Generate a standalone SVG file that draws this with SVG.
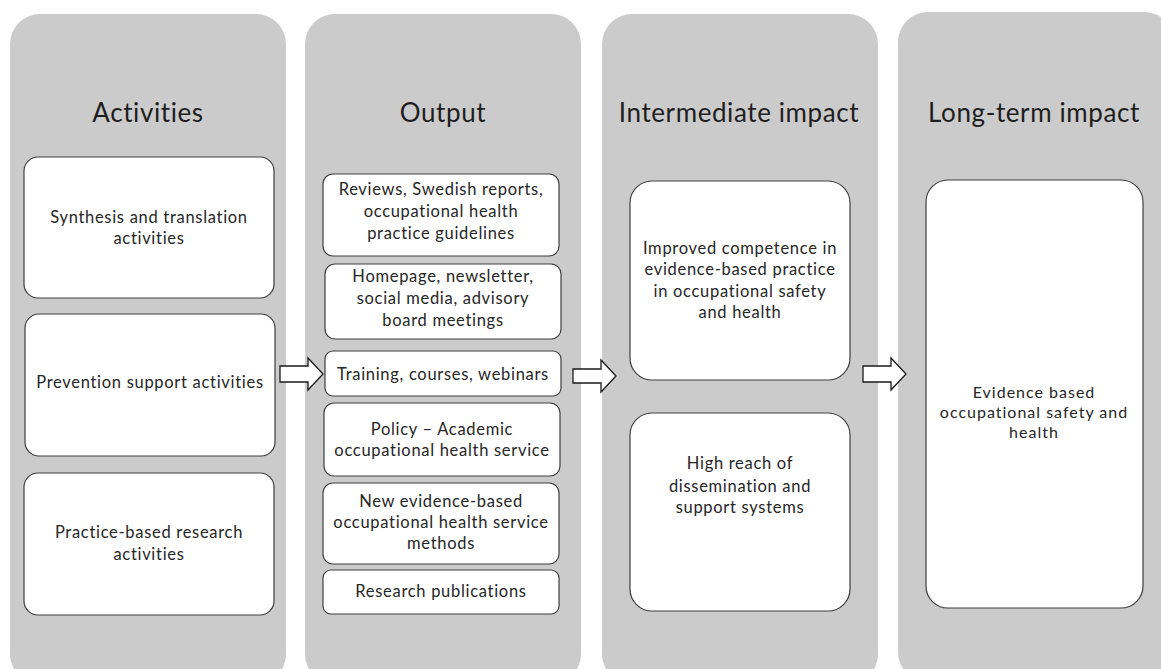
<svg xmlns="http://www.w3.org/2000/svg" width="1161" height="669" viewBox="0 0 1161 669">
<style>
.col{fill:#cbcbcb;}
.box{fill:#ffffff;stroke:#3f3f3f;stroke-width:1.2;}
.h{font-family:Lato,"Open Sans",sans-serif;font-size:26px;letter-spacing:0.6px;fill:#1e1e1e;text-anchor:middle;}
.t{font-family:Lato,"Open Sans",sans-serif;font-size:16.5px;letter-spacing:0.7px;fill:#262626;text-anchor:middle;}
.s{font-family:Lato,"Open Sans",sans-serif;font-size:16px;letter-spacing:1px;fill:#262626;text-anchor:middle;}
.arr{fill:#ffffff;stroke:#1a1a1a;stroke-width:1.3;stroke-linejoin:miter;}
</style>
<rect width="1161" height="669" fill="#ffffff"/>
<g id="col-activities">
<rect class="col" x="10" y="14" width="276" height="670" rx="30"/>
<text class="h" x="148" y="122">Activities</text>
</g>
<g id="col-output">
<rect class="col" x="305" y="14" width="276" height="670" rx="30"/>
<text class="h" x="443" y="122">Output</text>
</g>
<g id="col-intermediate">
<rect class="col" x="602" y="14" width="276" height="670" rx="30"/>
<text class="h" x="739" y="122">Intermediate impact</text>
</g>
<g id="col-longterm">
<rect class="col" x="898" y="12" width="276" height="670" rx="30"/>
<text class="h" x="1034" y="122">Long-term impact</text>
</g>
<g id="a1"><rect class="box" x="24" y="157" width="250" height="141" rx="14"/>
<text class="t" x="149" y="223">Synthesis and translation</text><text class="t" x="149" y="244">activities</text></g>
<g id="a2"><rect class="box" x="25" y="314" width="250" height="142" rx="14"/>
<text class="t" x="150" y="388">Prevention support activities</text></g>
<g id="a3"><rect class="box" x="24" y="473" width="250" height="142" rx="14"/>
<text class="t" x="149" y="538">Practice-based research</text><text class="t" x="149" y="560">activities</text></g>
<g id="o1"><rect class="box" x="323" y="174" width="236" height="82" rx="10"/>
<text class="t" x="441" y="195">Reviews, Swedish reports,</text><text class="t" x="441" y="217">occupational health</text><text class="t" x="441" y="239">practice guidelines</text></g>
<g id="o2"><rect class="box" x="325" y="264" width="236" height="75" rx="10"/>
<text class="t" x="443" y="282">Homepage, newsletter,</text><text class="t" x="443" y="304">social media, advisory</text><text class="t" x="443" y="326">board meetings</text></g>
<g id="o3"><rect class="box" x="325" y="351" width="236" height="45" rx="8"/>
<text class="t" x="443" y="380">Training, courses, webinars</text></g>
<g id="o4"><rect class="box" x="324" y="403" width="236" height="73" rx="10"/>
<text class="t" x="442" y="435">Policy – Academic</text><text class="t" x="442" y="456">occupational health service</text></g>
<g id="o5"><rect class="box" x="323" y="483" width="236" height="81" rx="10"/>
<text class="t" x="441" y="507">New evidence-based</text><text class="t" x="441" y="528">occupational health service</text><text class="t" x="441" y="549">methods</text></g>
<g id="o6"><rect class="box" x="323" y="570" width="236" height="44" rx="8"/>
<text class="t" x="441" y="597">Research publications</text></g>
<g id="i1"><rect class="box" x="630" y="181" width="220" height="199" rx="22"/>
<text class="t" x="740" y="254">Improved competence in</text><text class="t" x="740" y="275">evidence-based  practice</text><text class="t" x="740" y="297">in occupational safety</text><text class="t" x="740" y="318">and health</text></g>
<g id="i2"><rect class="box" x="630" y="413" width="220" height="198" rx="22"/>
<text class="t" x="740" y="469">High reach of</text><text class="t" x="740" y="492">dissemination and</text><text class="t" x="740" y="513">support systems</text></g>
<g id="l1"><rect class="box" x="926" y="180" width="217" height="428" rx="22"/>
<text class="s" x="1034" y="398">Evidence based</text><text class="s" x="1034" y="418">occupational safety and</text><text class="s" x="1034" y="438">health</text></g>
<g id="connectors">
<path class="arr" d="M280,366 H308 V358 L323,374 L308,390 V382 H280 Z"/>
<path class="arr" d="M573,369 H601 V360 L616,376 L601,392 V383 H573 Z"/>
<path class="arr" d="M863,366 H891 V358 L906,374 L891,390 V382 H863 Z"/>
</g>
</svg>
